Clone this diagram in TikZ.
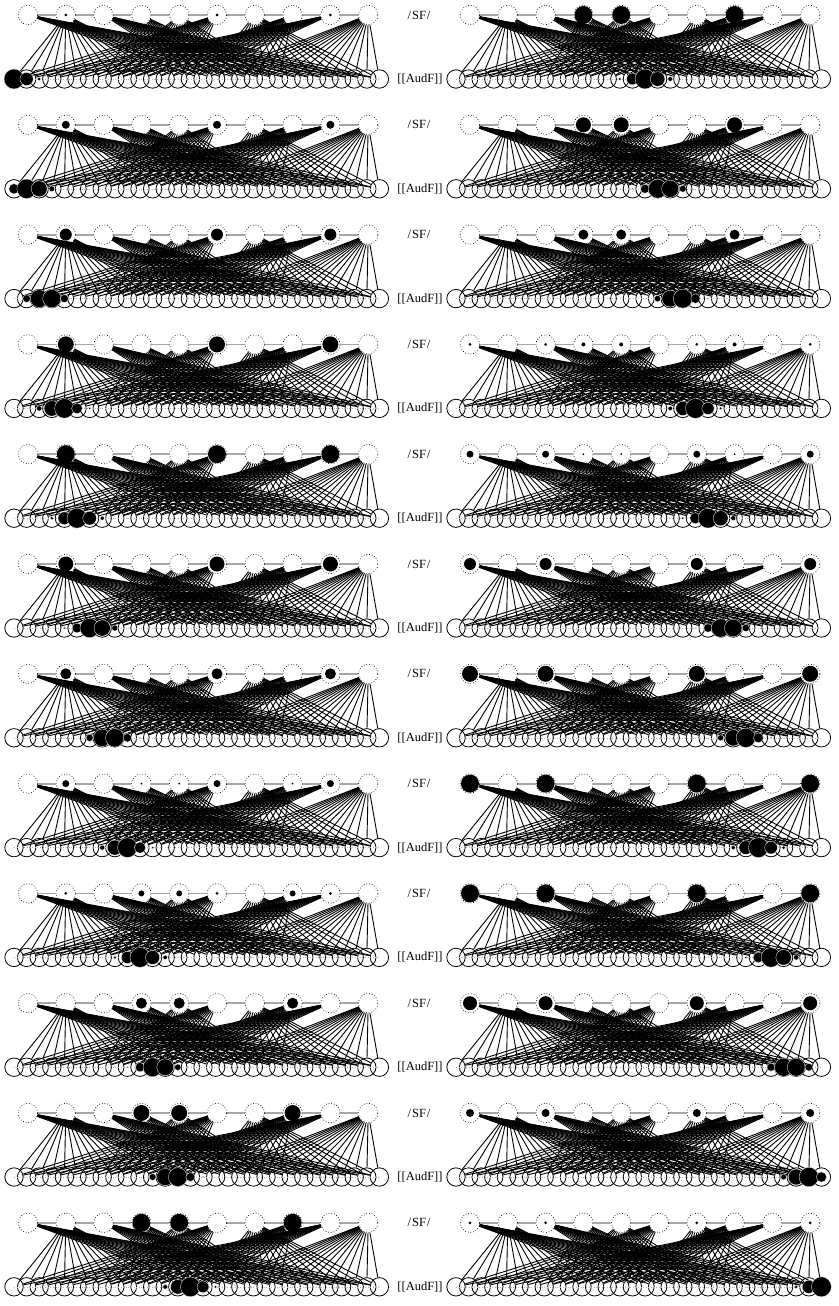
\documentclass[tikz,border=0pt]{standalone}
\usepackage{fontspec}
\setmainfont{Liberation Serif}
\begin{document}
\begin{tikzpicture}[x=1pt,y=-1pt,
  topnode/.style={circle,draw,dotted,line width=0.7pt,minimum size=19.4pt,inner sep=0pt},
  botnode/.style={circle,draw,line width=0.8pt,minimum size=18.4pt,inner sep=0pt},
  conn/.style={line width=0.9pt},
  toplink/.style={draw=black!35,line width=1.8pt},
  botlink/.style={draw=black!30,dotted,line width=0.6pt},
  disc/.style={fill=black,draw=white,line width=0.3pt},
  lab/.style={font=\fontsize{12.5}{14}\selectfont,inner sep=0pt}]
\useasboundingbox[fill=white] (0,0) rectangle (838,1306);
\foreach \p/\acts in {
 1/{0,1.5,0,0,0,1.5,0,0,1.5,0},
 2/{0,4,0,0,0,4,0,0,4,0},
 3/{0,6,0,0,0,6,0,0,6,0},
 4/{0,8,0,0,0,8,0,0,8,0},
 5/{0,9,0,0,0,9,0,0,9,0},
 6/{0,7.5,0,0,0,7.5,0,0,7.5,0},
 7/{0,5.5,0,0,0,5.5,0,0,5.5,0},
 8/{0,3.5,0,1,1,3.5,0,1,3.5,0},
 9/{0,1.5,0,3,3,1.5,0,3,1.5,0},
 10/{0,0,0,5.5,5.5,0,0,5.5,0,0},
 11/{0,0,0,8,8,0,0,8,0,0},
 12/{0,0,0,9,9,0,0,9,0,0},
 13/{0,0,0,9,9,0,0,9,0,0},
 14/{0,0,0,7.5,7.5,0,0,7.5,0,0},
 15/{0,0,0,5,5,0,0,5,0,0},
 16/{1.5,0,1.5,2,2,0,1.5,2,0,1.5},
 17/{3.5,0,3.5,1,1,0,3.5,1,0,3.5},
 18/{6,0,6,0,0,0,6,0,0,6},
 19/{8,0,8,0,0,0,8,0,0,8},
 20/{9,0,9,0,0,0,9,0,0,9},
 21/{9,0,9,0,0,0,9,0,0,9},
 22/{7,0,7,0,0,0,7,0,0,7},
 23/{4,0,4,0,0,0,4,0,0,4},
 24/{1.5,0,1.5,0,0,0,1.5,0,0,1.5}} {
  \pgfmathtruncatemacro\col{(\p-1)/12}
  \pgfmathtruncatemacro\row{mod(\p-1,12)}
  \pgfmathsetmacro\ox{\col*442}
  \pgfmathsetmacro\oy{\row*109.8}
  \pgfmathsetmacro\cen{1+(\p-1)*29/23}
  \begin{scope}[shift={(\ox,\oy)}]
    % nodes
    \foreach \i in {1,...,10} {
      \node[topnode] (t\p-\i) at ({28+37.8*(\i-1)},15) {};
    }
    \foreach \j in {1,...,30} {
      \node[botnode] (b\p-\j) at ({14+12.6*(\j-1)},79) {};
    }
    % layer links
    \draw[botlink] (b\p-1.center) -- (b\p-30.center);
    \foreach \i [evaluate=\i as \k using int(\i+1)] in {1,...,9} {
      \draw[toplink] (t\p-\i) -- (t\p-\k);
    }
    % connections
    \foreach \i/\lo in {1/16,2/1,3/16,4/8,5/8,6/1,7/16,8/8,9/1,10/16} {
      \pgfmathtruncatemacro\hi{\lo+14}
      \foreach \j in {\lo,...,\hi} {
        \draw[conn] (t\p-\i) -- (b\p-\j);
      }
    }
    % top activations
    \foreach \r [count=\i] in \acts {
      \ifdim\r pt>0pt \fill[black] (t\p-\i.center) circle[radius=\r pt]; \fi
    }
    % bottom activations
    \foreach \j in {1,...,30} {
      \pgfmathsetmacro\dd{abs(\j-\cen)}
      \ifdim\dd pt<3.2pt
        \pgfmathsetmacro\rr{10*exp(-(\dd*\dd)/(2*1.1*1.1))}
        \ifdim\rr pt>0.8pt \path[disc] (b\p-\j.center) circle[radius=\rr pt]; \fi
      \fi
    }
  \end{scope}
}
\foreach \row in {0,...,11} {
  \node[lab] (sf\row) at (419,{15+\row*109.8}) {/\kern1pt SF\kern1pt/};
  \node[lab] (af\row) at (420,{79+\row*109.8}) {[[AudF]]};
}
\end{tikzpicture}
\end{document}
